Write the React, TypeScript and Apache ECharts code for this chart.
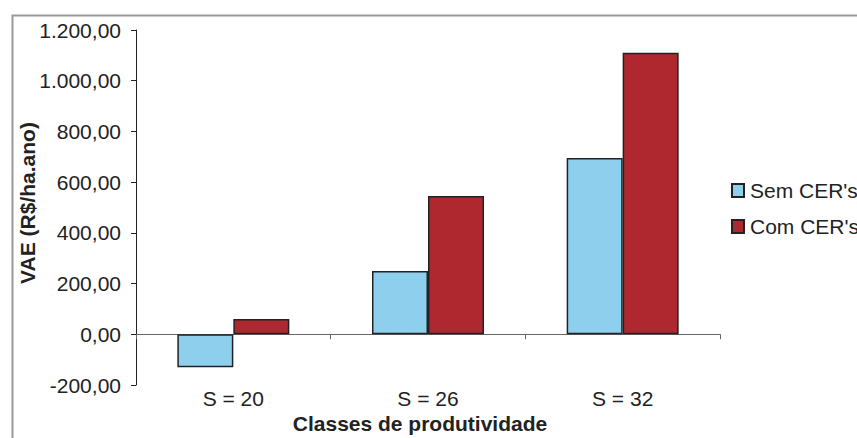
import React, { useEffect, useRef } from "react";
import * as echarts from "echarts";

const categories = ["S = 20", "S = 26", "S = 32"];
const semCERs = [-130, 250, 695];
const comCERs = [60, 545, 1110];
const seriesNames = ["Sem CER's", "Com CER's"];
const yAxisTitle = "VAE (R$/ha.ano)";
const xAxisTitle = "Classes de produtividade";

const FONT = "'Liberation Sans', Arial, sans-serif";

// Brazilian number format: 1.200,00
function fmtBR(v: number): string {
  const neg = v < 0;
  const abs = Math.abs(v);
  const [intPart, dec] = abs.toFixed(2).split(".");
  const withDots = intPart.replace(/\B(?=(\d{3})+(?!\d))/g, ".");
  return (neg ? "-" : "") + withDots + "," + dec;
}

export default function App() {
  const ref = useRef<HTMLDivElement>(null);

  useEffect(() => {
    if (!ref.current) return;
    const chart = echarts.init(ref.current, null, { renderer: "svg" });
    const barBorder = { borderColor: "#222", borderWidth: 1.5 };
    chart.setOption({
      animation: false,
      backgroundColor: "#fff",
      textStyle: { fontFamily: FONT },
      grid: {
        left: 136,
        right: 137,
        top: 30,
        bottom: 53,
        containLabel: false,
        outerBoundsMode: "none",
      },
      legend: {
        orient: "vertical",
        left: 726,
        top: 175,
        itemWidth: 12,
        itemHeight: 13,
        itemGap: 15,
        icon: "rect",
        textStyle: { fontSize: 21, color: "#222", fontFamily: FONT, padding: [0, 0, 0, 1] },
        data: seriesNames,
      },
      xAxis: {
        type: "category",
        data: categories,
        axisLine: { onZero: true, lineStyle: { color: "#666", width: 1 } },
        axisTick: { show: true, inside: false, length: 5, lineStyle: { color: "#666" } },
        axisLabel: { margin: 3, fontSize: 21, color: "#222", fontFamily: FONT },
        splitLine: { show: false },
      },
      yAxis: {
        type: "value",
        min: -200,
        max: 1200,
        interval: 200,
        axisLine: { show: true, lineStyle: { color: "#222", width: 1 } },
        axisTick: { show: true, length: 5, lineStyle: { color: "#222" } },
        axisLabel: {
          margin: 15,
          fontSize: 21,
          color: "#222",
          fontFamily: FONT,
          formatter: (v: number) => fmtBR(v),
        },
        splitLine: { show: false },
      },
      series: [
        {
          name: seriesNames[0],
          type: "bar",
          data: semCERs,
          barWidth: 56,
          barGap: "0%",
          itemStyle: { color: "#8ECFEE", ...barBorder },
        },
        {
          name: seriesNames[1],
          type: "bar",
          data: comCERs,
          barWidth: 56,
          barGap: "0%",
          itemStyle: { color: "#AF2830", ...barBorder },
        },
      ],
      graphic: [
        {
          type: "rect",
          left: 10,
          top: 13,
          shape: { width: 900, height: 500 },
          style: { fill: "none", stroke: "#999", lineWidth: 2 },
          silent: true,
          z: -1,
        },
        {
          type: "text",
          x: 27,
          y: 203,
          rotation: Math.PI / 2,
          style: {
            text: yAxisTitle,
            fontSize: 21,
            fontWeight: "bold",
            fontFamily: FONT,
            fill: "#222",
            align: "center",
            verticalAlign: "middle",
          },
        },
        {
          type: "text",
          x: 420,
          y: 423,
          style: {
            text: xAxisTitle,
            fontSize: 21,
            fontWeight: "bold",
            fontFamily: FONT,
            fill: "#222",
            align: "center",
            verticalAlign: "middle",
          },
        },
      ],
    });
    return () => chart.dispose();
  }, []);

  return (
    <div
      ref={ref}
      style={{ position: "fixed", left: 0, top: 0, width: 857, height: 438 }}
    />
  );
}
